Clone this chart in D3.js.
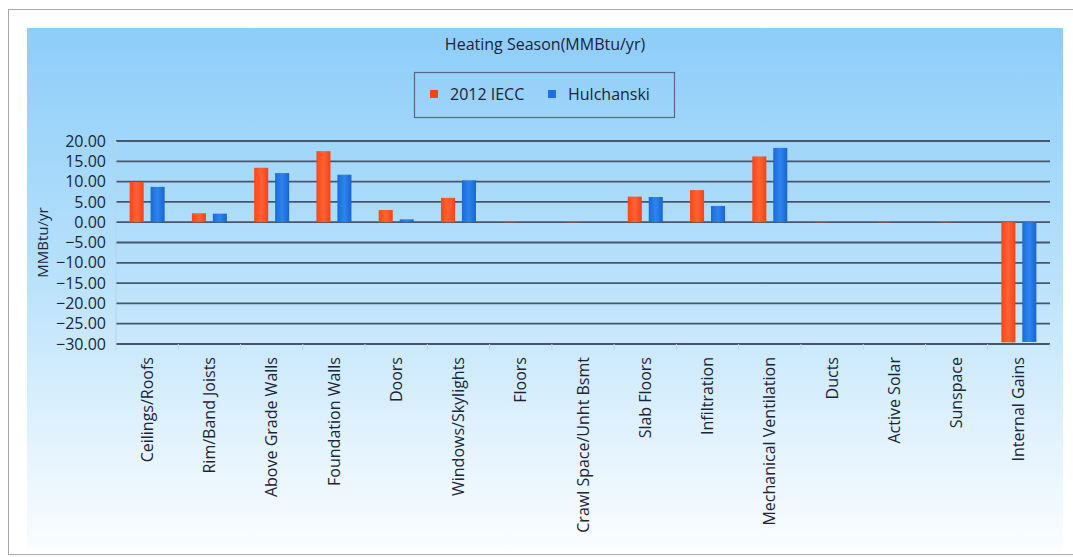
<!DOCTYPE html>
<html>
<head>
<meta charset="utf-8">
<script src="https://cdn.jsdelivr.net/npm/d3@7"></script>
<style>
  html, body { margin: 0; padding: 0; background: #ffffff; }
  svg { display: block; font-family: "Open Sans", "Noto Sans", sans-serif; }
</style>
</head>
<body>
<div id="chart"></div>
<script>
// ---------------------------//
//          DATA              //
// ---------------------------//
const categories = [
  "Ceilings/Roofs", "Rim/Band Joists", "Above Grade Walls", "Foundation Walls",
  "Doors", "Windows/Skylights", "Floors", "Crawl Space/Unht Bsmt", "Slab Floors",
  "Infiltration", "Mechanical Ventilation", "Ducts", "Active Solar", "Sunspace",
  "Internal Gains"
];
const seriesNames = ["2012 IECC", "Hulchanski"];
const iecc = [9.9, 2.2, 13.4, 17.5, 3.0, 6.0, 0.1, 0.1, 6.3, 7.9, 16.2, 0.1, 0.1, 0.1, -29.6];
const hulchanski = [8.7, 2.1, 12.1, 11.7, 0.7, 10.3, 0.0, 0.0, 6.2, 4.0, 18.3, 0.0, 0.0, 0.0, -29.5];
const yTicks = [20, 15, 10, 5, 0, -5, -10, -15, -20, -25, -30];

const W = 1073, H = 557;
const margin = {top: 141, right: 23, bottom: 213, left: 116};
const plotW = W - margin.left - margin.right,
      plotH = H - margin.top - margin.bottom;

const svg = d3.select("#chart")
  .append("svg")
  .attr("width", W)
  .attr("height", H);

// ---------------------------//
//       BACKGROUND           //
// ---------------------------//
const defs = svg.append("defs");
const bg = defs.append("linearGradient")
  .attr("id", "bg").attr("x1", "0%").attr("x2", "0%").attr("y1", "0%").attr("y2", "100%");
bg.selectAll("stop")
  .data([
    {o: "0%", c: "#8dcdf9"},
    {o: "45%", c: "#b6e0fb"},
    {o: "80%", c: "#e4f3fd"},
    {o: "100%", c: "#fbfdff"}
  ])
  .enter().append("stop")
  .attr("offset", d => d.o)
  .attr("stop-color", d => d.c);

const redGrad = defs.append("linearGradient")
  .attr("id", "redBar").attr("x1", "0%").attr("x2", "100%");
redGrad.append("stop").attr("offset", "0%").attr("stop-color", "#ff4418");
redGrad.append("stop").attr("offset", "50%").attr("stop-color", "#ff6234");
redGrad.append("stop").attr("offset", "100%").attr("stop-color", "#f54216");

const blueGrad = defs.append("linearGradient")
  .attr("id", "blueBar").attr("x1", "0%").attr("x2", "100%");
blueGrad.append("stop").attr("offset", "0%").attr("stop-color", "#1a6ad9");
blueGrad.append("stop").attr("offset", "50%").attr("stop-color", "#2e84ef");
blueGrad.append("stop").attr("offset", "100%").attr("stop-color", "#1764d2");

// white card with a thin frame
svg.append("rect")
  .attr("x", 8.5).attr("y", 9.5)
  .attr("width", 1070).attr("height", 545)
  .attr("fill", "#ffffff")
  .attr("stroke", "#a8a8a8");

svg.append("rect")
  .attr("x", 27).attr("y", 28)
  .attr("width", 1036).attr("height", 522)
  .attr("fill", "url(#bg)");

const g = svg.append("g")
  .attr("transform", `translate(${margin.left},${margin.top})`);

// ---------------------------//
//       AXIS  AND SCALE      //
// ---------------------------//
const x = d3.scaleBand()
  .domain(categories)
  .range([0, plotW]);

const y = d3.scaleLinear()
  .domain([-30, 20])
  .range([plotH, 0]);

// two bars of ~14px with a ~7px gap, centred in each category
const x1 = d3.scaleBand()
  .domain(seriesNames)
  .range([x.bandwidth() / 2 - 17.5, x.bandwidth() / 2 + 17.5])
  .paddingInner(0.33);

// gridlines
g.selectAll(".grid")
  .data(yTicks)
  .enter().append("line")
  .attr("x1", 0).attr("x2", plotW)
  .attr("y1", d => y(d)).attr("y2", d => y(d))
  .attr("stroke", "#46576a")
  .attr("stroke-width", 1.8);

// left axis line (faint)
g.append("line")
  .attr("x1", 0).attr("x2", 0)
  .attr("y1", 0).attr("y2", plotH)
  .attr("stroke", "#b9d3e6");

// category separators below the plot
g.selectAll(".sep")
  .data(d3.range(categories.length + 1))
  .enter().append("line")
  .attr("x1", i => i * x.step()).attr("x2", i => i * x.step())
  .attr("y1", plotH).attr("y2", plotH + 6)
  .attr("stroke", "#c4d6e4");

// y tick labels
const yAxis = g.append("g")
  .call(d3.axisLeft(y).tickValues(yTicks).tickSize(0).tickPadding(10).tickFormat(d3.format(".2f")));
yAxis.select(".domain").remove();
yAxis.selectAll("text")
  .attr("fill", "#1c2436")
  .style("font-size", "16px")
  .style("font-family", "'Open Sans', sans-serif");

// x tick labels (rotated)
const xAxis = g.append("g")
  .attr("transform", `translate(0,${plotH})`)
  .call(d3.axisBottom(x).tickSize(0).tickPadding(0));
xAxis.select(".domain").remove();
xAxis.selectAll("text")
  .attr("transform", "rotate(-90)")
  .attr("text-anchor", "end")
  .attr("x", -13)
  .attr("y", 0)
  .attr("dy", "0.35em")
  .attr("fill", "#1c2436")
  .style("font-size", "16px")
  .style("font-family", "'Open Sans', sans-serif");

// y axis title
svg.append("text")
  .attr("transform", `translate(48,${margin.top + y(-5)}) rotate(-90)`)
  .attr("text-anchor", "middle")
  .attr("fill", "#1c2436")
  .style("font-size", "15px")
  .text("MMBtu/yr");

// ---------------------------//
//          BARS              //
// ---------------------------//
const rows = categories.map((c, i) => ({cat: c, vals: [iecc[i], hulchanski[i]]}));
const fills = ["url(#redBar)", "url(#blueBar)"];

const groups = g.selectAll(".cat")
  .data(rows)
  .enter().append("g")
  .attr("transform", d => `translate(${x(d.cat)},0)`);

groups.selectAll("rect")
  .data(d => d.vals.map((v, k) => ({v, k})))
  .enter().append("rect")
  .attr("x", d => x1(seriesNames[d.k]))
  .attr("width", x1.bandwidth())
  .attr("y", d => y(Math.max(0, d.v)))
  .attr("height", d => Math.abs(y(d.v) - y(0)))
  .attr("fill", d => fills[d.k]);

// ---------------------------//
//      TITLE AND LEGEND      //
// ---------------------------//
svg.append("text")
  .attr("x", 545).attr("y", 50)
  .attr("text-anchor", "middle")
  .attr("fill", "#1c2436")
  .style("font-size", "16px")
  .text("Heating Season(MMBtu/yr)");

const legend = svg.append("g").attr("transform", "translate(414,72)");
legend.append("rect")
  .attr("x", 0.5).attr("y", 0.5)
  .attr("width", 260).attr("height", 45)
  .attr("fill", "none")
  .attr("stroke", "#56687a")
  .attr("stroke-width", 1.2);

const legendX = [16, 134];
const legendColors = ["#ff4216", "#1f6fe0"];
seriesNames.forEach((name, k) => {
  legend.append("rect")
    .attr("x", legendX[k]).attr("y", 18)
    .attr("width", 8).attr("height", 8)
    .attr("fill", legendColors[k]);
  legend.append("text")
    .attr("x", legendX[k] + 20).attr("y", 28)
    .attr("fill", "#1c2436")
    .style("font-size", "16px")
    .text(name);
});
</script>
</body>
</html>
